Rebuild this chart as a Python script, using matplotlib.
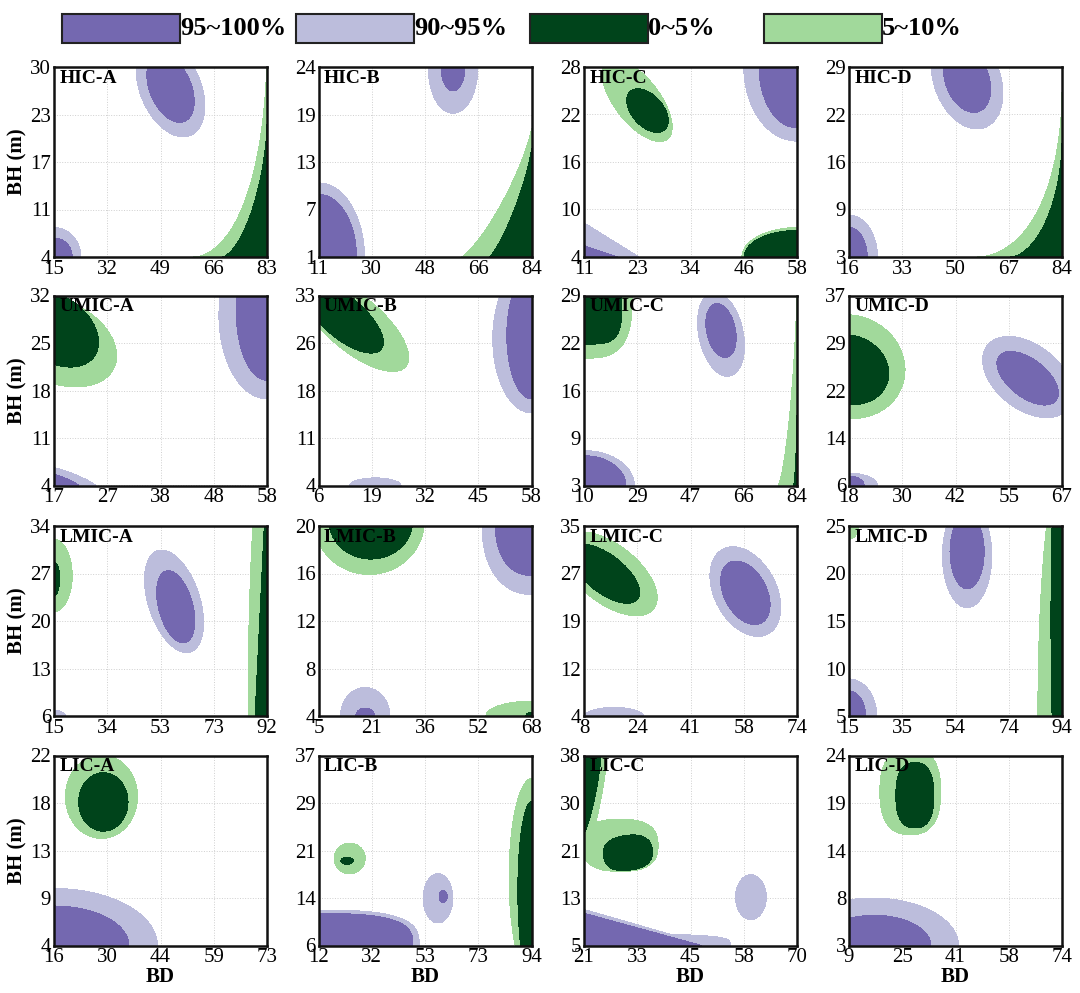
import numpy as np
import matplotlib
matplotlib.use('Agg')
import matplotlib.pyplot as plt
from matplotlib.patches import Rectangle

plt.rcParams['font.family'] = ['Liberation Serif', 'DejaVu Serif']

# ---------------------------------------------------------------
# Data
PANELS = ['HIC-A', 'HIC-B', 'HIC-C', 'HIC-D',
          'UMIC-A', 'UMIC-B', 'UMIC-C', 'UMIC-D',
          'LMIC-A', 'LMIC-B', 'LMIC-C', 'LMIC-D',
          'LIC-A', 'LIC-B', 'LIC-C', 'LIC-D']

X_TICKS = [[15, 32, 49, 66, 83], [11, 30, 48, 66, 84], [11, 23, 34, 46, 58], [16, 33, 50, 67, 84],
           [17, 27, 38, 48, 58], [6, 19, 32, 45, 58], [10, 29, 47, 66, 84], [18, 30, 42, 55, 67],
           [15, 34, 53, 73, 92], [5, 21, 36, 52, 68], [8, 24, 41, 58, 74], [15, 35, 54, 74, 94],
           [16, 30, 44, 59, 73], [12, 32, 53, 73, 94], [21, 33, 45, 58, 70], [9, 25, 41, 58, 74]]

Y_TICKS = [[4, 11, 17, 23, 30], [1, 7, 13, 19, 24], [4, 10, 16, 22, 28], [3, 9, 16, 22, 29],
           [4, 11, 18, 25, 32], [4, 11, 18, 26, 33], [3, 9, 16, 22, 29], [6, 14, 22, 29, 37],
           [6, 13, 20, 27, 34], [4, 8, 12, 16, 20], [4, 12, 19, 27, 35], [5, 10, 15, 20, 25],
           [4, 9, 13, 18, 22], [6, 14, 21, 29, 37], [5, 13, 21, 30, 38], [3, 8, 14, 19, 24]]

LEGEND_LABELS = ['95~100%', '90~95%', '0~5%', '5~10%']
LAYER_KEYS = ['P', 'p', 'G', 'g']

# region outlines: (layer, centre BD, centre BH, half-size 1, half-size 2, tilt deg, roundness)
# half-sizes are in panel heights; P/p = 95~100% / 90~95%, G/g = 0~5% / 5~10%
SHAPES = {
    'HIC-A': [('p', 52.2, 27.1, 0.27, 0.16, -67, 2), ('P', 52.2, 27.1, 0.19, 0.109, -67, 2),
              ('p', 15, 4, 0.142, 0.155, 0, 2), ('P', 15, 4, 0.096, 0.10, 0, 2),
              ('g', 83, 4, 0.39, 1.1, 0, 0.55), ('G', 83, 4, 0.236, 0.70, 0, 0.65)],
    'HIC-B': [('p', 57.1, 23.8, 0.13, 0.235, 0, 2), ('P', 57.1, 23.8, 0.062, 0.117, 0, 2),
              ('p', 11, 1, 0.242, 0.39, 0, 2), ('P', 11, 1, 0.2, 0.33, 0, 2),
              ('g', 84, 1, 0.37, 0.68, 0, 0.8), ('G', 84, 1, 0.224, 0.573, 0, 0.8)],
    'HIC-C': [('g', 22.7, 23.8, 0.26, 0.118, -52, 2), ('G', 25.0, 22.5, 0.136, 0.082, -48, 2),
              ('p', 58, 28, 0.28, 0.39, 0, 2), ('P', 58, 28, 0.2, 0.32, 0, 2),
              ('p', 11, 4, 0.29, 0.18, 0, 1), ('P', 11, 4, 0.176, 0.06, 0, 1),
              ('g', 58, 4, 0.29, 0.155, 0, 2), ('G', 58, 4, 0.278, 0.14, 0, 2)],
    'HIC-D': [('p', 53.7, 27.3, 0.27, 0.175, -70, 2), ('P', 53.7, 27.3, 0.18, 0.115, -70, 2),
              ('p', 16, 3, 0.15, 0.22, 0, 2), ('P', 16, 3, 0.096, 0.155, 0, 2),
              ('g', 84, 3, 0.445, 0.87, 0, 0.55), ('G', 84, 3, 0.27, 0.6, 0, 0.6)],
    'UMIC-A': [('g', 17.5, 25.3, 0.334, 0.217, -25, 2), ('G', 17.2, 27.1, 0.253, 0.171, -35, 2),
               ('p', 58, 29.1, 0.253, 0.44, 0, 2), ('P', 58, 29.6, 0.162, 0.36, 0, 2),
               ('p', 17, 4, 0.22, 0.094, 0, 1.2), ('P', 17, 4, 0.13, 0.058, 0, 1.2)],
    'UMIC-B': [('g', 14.8, 28.7, 0.352, 0.144, -40, 2), ('G', 12.3, 29.5, 0.253, 0.108, -40, 2),
               ('p', 58, 26.4, 0.204, 0.39, 0, 2), ('P', 58, 26.9, 0.13, 0.334, 0, 2),
               ('p', 19.9, 4, 0.135, 0.04, 0, 2)],
    'UMIC-C': [('g', 10, 29, 0.253, 0.33, 0, 3), ('G', 10, 29, 0.2, 0.256, 0, 4),
               ('p', 57.6, 23.7, 0.225, 0.117, -78, 2), ('P', 57.6, 24.2, 0.144, 0.076, -78, 2),
               ('p', 10, 3, 0.265, 0.184, 0, 2), ('P', 10, 3, 0.22, 0.157, 0, 2),
               ('g', 84, 3, 0.1, 1.05, 0, 0.7), ('G', 84, 3, 0.018, 0.374, 0, 0.7)],
    'UMIC-D': [('g', 18, 25.4, 0.298, 0.27, -20, 2), ('G', 18, 24.9, 0.213, 0.18, -20, 2),
               ('p', 59.1, 23.7, 0.27, 0.17, -38, 2), ('P', 59.1, 23.5, 0.19, 0.10, -38, 2),
               ('p', 18, 6, 0.15, 0.065, 0, 2), ('P', 18, 6, 0.08, 0.05, 0, 2)],
    'LMIC-A': [('g', 15, 26.7, 0.096, 0.19, 0, 2), ('G', 15, 26.2, 0.03, 0.09, 0, 2),
               ('p', 58.4, 22.9, 0.28, 0.136, -72, 2), ('P', 59.0, 22.1, 0.195, 0.09, -75, 2),
               ('g', 92, 6, 0.1, 1.5, 0, 2), ('G', 92, 6, 0.063, 1.3, 0, 1),
               ('p', 15, 6, 0.06, 0.03, 0, 2)],
    'LMIC-B': [('g', 20.0, 20.4, 0.29, 0.28, 0, 2), ('G', 20.5, 20.4, 0.22, 0.199, 0, 2),
               ('p', 68, 20, 0.26, 0.36, 0, 2.2), ('P', 68, 20, 0.19, 0.26, 0, 2.2),
               ('p', 18.8, 4, 0.13, 0.15, 0, 2), ('P', 18.8, 4, 0.05, 0.042, 0, 2),
               ('g', 68, 4, 0.24, 0.078, 0, 2), ('G', 68, 4, 0.03, 0.02, 0, 2)],
    'LMIC-C': [('g', 15.7, 27.2, 0.3, 0.154, -38, 2), ('G', 14.6, 27.2, 0.217, 0.1, -38, 2),
               ('p', 58.0, 24.3, 0.253, 0.163, -62, 2), ('P', 58.0, 24.1, 0.18, 0.112, -62, 2),
               ('p', 17.3, 4, 0.154, 0.045, 0, 2)],
    'LMIC-D': [('p', 58.8, 21.9, 0.13, 0.275, 0, 2), ('P', 58.8, 22.3, 0.09, 0.195, 0, 2),
               ('p', 15, 5, 0.146, 0.195, 0, 2), ('P', 15, 5, 0.087, 0.132, 0, 2),
               ('g', 15, 25, 0.05, 0.07, 0, 2), ('g', 94, 5, 0.127, 1.3, 0, 2),
               ('G', 94, 15.1, 0.058, 0.9, 0, 2.5)],
    'LIC-A': [('g', 28.7, 18.1, 0.19, 0.22, 0, 2), ('G', 29.2, 17.6, 0.13, 0.154, 0, 2),
              ('p', 16, 4, 0.544, 0.3, 0, 2), ('P', 16, 4, 0.394, 0.208, 0, 2)],
    'LIC-B': [('g', 24.0, 20.2, 0.082, 0.081, 0, 2), ('G', 23.0, 19.8, 0.033, 0.018, 0, 2),
              ('p', 58.0, 13.7, 0.078, 0.13, 0, 2), ('P', 60.0, 14.0, 0.022, 0.031, 0, 2),
              ('p', 12, 6, 0.53, 0.186, 0, 3), ('P', 12, 6, 0.497, 0.168, 0, 3),
              ('g', 94, 17.1, 0.118, 0.52, 0, 2), ('G', 94, 14.9, 0.072, 0.47, 0, 2)],
    'LIC-C': [('g', 21, 38, 0.121, 0.54, 0, 1.3), ('G', 21, 38, 0.09, 0.41, 0, 1.3),
              ('g', 29.3, 22.4, 0.2, 0.137, 0, 2.6), ('G', 31.1, 21.1, 0.13, 0.092, 8, 2.4),
              ('p', 21, 5, 0.77, 0.06, 0, 4), ('p', 21, 5, 0.66, 0.19, 0, 1),
              ('P', 21, 5, 0.62, 0.17, 0, 1), ('p', 59.4, 13.4, 0.081, 0.118, 0, 2)],
    'LIC-D': [('g', 27.7, 20.0, 0.16, 0.226, 0, 2.5), ('G', 29.1, 19.6, 0.1, 0.172, 0, 2.5),
              ('p', 16.2, 3, 0.452, 0.25, 0, 2), ('P', 16.7, 3, 0.298, 0.159, 0, 2)],
}

COLORS = {'P': '#7468b0', 'p': '#bcbddc', 'G': '#00441b', 'g': '#a1d99b'}
DRAW_ORDER = ['p', 'P', 'g', 'G']

# ---------------------------------------------------------------
W, H = 1080, 993
PANEL_W, PANEL_H = 213, 190
LEFTS = [54, 318.5, 584, 849]
TOPS = [67, 295.5, 526, 755.5]
ASPECT = PANEL_W / PANEL_H


def shape_distance(xx, yy, xlim, ylim, shape):
    _, cx, cy, a, b, ang, p = shape
    sx = ASPECT / (xlim[1] - xlim[0])
    sy = 1.0 / (ylim[1] - ylim[0])
    dx = (xx - cx) * sx
    dy = (yy - cy) * sy
    t = np.deg2rad(ang)
    u = (dx * np.cos(t) + dy * np.sin(t)) / a
    v = (-dx * np.sin(t) + dy * np.cos(t)) / b
    return (np.abs(u) ** p + np.abs(v) ** p) ** (1.0 / p)


fig = plt.figure(figsize=(W / 100, H / 100), dpi=100)

for i, name in enumerate(PANELS):
    row, col = divmod(i, 4)
    ax = fig.add_axes([LEFTS[col] / W, 1 - (TOPS[row] + PANEL_H) / H,
                       PANEL_W / W, PANEL_H / H])
    xt, yt = X_TICKS[i], Y_TICKS[i]
    xlim, ylim = (xt[0], xt[-1]), (yt[0], yt[-1])
    xs = np.linspace(*xlim, 400)
    ys = np.linspace(*ylim, 400)
    xx, yy = np.meshgrid(xs, ys)

    for key in DRAW_ORDER:
        group = [s for s in SHAPES[name] if s[0] == key]
        if not group:
            continue
        d = np.min([shape_distance(xx, yy, xlim, ylim, s) for s in group], axis=0)
        if d.min() < 1:
            ax.contourf(xx, yy, d, levels=[-1, 1], colors=[COLORS[key]], zorder=1)

    ax.set_xlim(xlim)
    ax.set_ylim(ylim)
    xpos = np.linspace(xlim[0], xlim[1], 5)
    ypos = np.linspace(ylim[0], ylim[1], 5)
    ax.set_xticks(xpos, [str(v) for v in xt])
    ax.set_yticks(ypos, [str(v) for v in yt])
    ax.tick_params(length=0, labelsize=15, pad=2)
    ax.set_axisbelow(True)
    ax.grid(True, ls=':', lw=0.7, color='#cfcfcf')
    for sp in ax.spines.values():
        sp.set_linewidth(1.8)
        sp.set_color('#111111')
        sp.set_zorder(5)
    ax.text(0.025, 0.985, name, transform=ax.transAxes, ha='left', va='top',
            fontsize=14, fontweight='bold', zorder=6)
    if col == 0:
        ax.set_ylabel('BH (m)', fontsize=15, fontweight='bold', labelpad=2)
    if row == 3:
        ax.set_xlabel('BD', fontsize=15, fontweight='bold', labelpad=0)

# legend row
for j, (label, key) in enumerate(zip(LEGEND_LABELS, LAYER_KEYS)):
    x0 = 62 + 234 * j
    fig.patches.append(Rectangle((x0 / W, 1 - 43 / H), 118 / W, 29 / H,
                                 transform=fig.transFigure, facecolor=COLORS[key],
                                 edgecolor='#222222', lw=1.5))
    fig.text((x0 + 118) / W, 1 - 28.5 / H, label, ha='left', va='center',
             fontsize=19, fontweight='bold')

fig.savefig('out.png', dpi=100)
